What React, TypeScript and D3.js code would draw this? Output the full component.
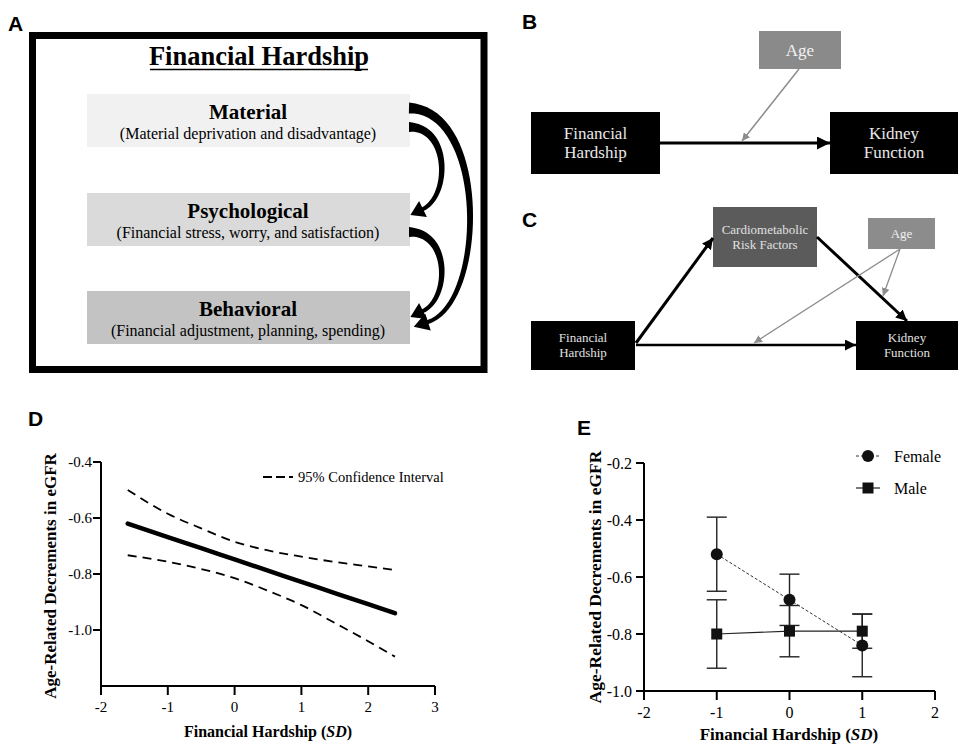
import React from "react";
import * as d3 from "d3";

// ---- panel A: hardship domains
const domainNames = ["Material", "Psychological", "Behavioral"];
const domainNotes = [
  "(Material deprivation and disadvantage)",
  "(Financial stress, worry, and satisfaction)",
  "(Financial adjustment, planning, spending)",
];
const domainFills = ["#f1f1f1", "#dadada", "#c3c3c3"];

// ---- panel D: simple slope with 95% CI
const dX = [-1.6, -1, -0.5, 0, 0.5, 1, 1.5, 2, 2.4];
const dFit = [-0.62, -0.668, -0.708, -0.748, -0.788, -0.828, -0.868, -0.908, -0.94];
const dUpper = [-0.5, -0.585, -0.637, -0.685, -0.716, -0.738, -0.757, -0.773, -0.786];
const dLower = [-0.733, -0.756, -0.782, -0.815, -0.86, -0.911, -0.975, -1.04, -1.095];
const dXTicks = [-2, -1, 0, 1, 2, 3];
const dYTicks = [-0.4, -0.6, -0.8, -1.0];

// ---- panel E: sex by hardship
const eX = [-1, 0, 1];
const femaleMean = [-0.52, -0.68, -0.84];
const femaleLow = [-0.65, -0.77, -0.95];
const femaleHigh = [-0.39, -0.59, -0.73];
const maleMean = [-0.8, -0.79, -0.79];
const maleLow = [-0.92, -0.88, -0.85];
const maleHigh = [-0.68, -0.7, -0.73];
const eXTicks = [-2, -1, 0, 1, 2];
const eYTicks = [-0.2, -0.4, -0.6, -0.8, -1.0];

const SERIF = "Liberation Serif";
const SANS = "Liberation Sans";

type Pt = [number, number];

// tapered curved arrow drawn as a filled outline
function taperedArrow(p0: Pt, p1: Pt, p2: Pt, p3: Pt, w0: number, w1: number, headLen: number, headHalf: number) {
  const bez = (t: number): Pt => {
    const m = 1 - t;
    return [
      m * m * m * p0[0] + 3 * m * m * t * p1[0] + 3 * m * t * t * p2[0] + t * t * t * p3[0],
      m * m * m * p0[1] + 3 * m * m * t * p1[1] + 3 * m * t * t * p2[1] + t * t * t * p3[1],
    ];
  };
  const der = (t: number): Pt => {
    const m = 1 - t;
    return [
      3 * m * m * (p1[0] - p0[0]) + 6 * m * t * (p2[0] - p1[0]) + 3 * t * t * (p3[0] - p2[0]),
      3 * m * m * (p1[1] - p0[1]) + 6 * m * t * (p2[1] - p1[1]) + 3 * t * t * (p3[1] - p2[1]),
    ];
  };
  const left: Pt[] = [];
  const right: Pt[] = [];
  const n = 40;
  for (let i = 0; i <= n; i++) {
    const t = i / n;
    const p = bez(t);
    const d = der(t);
    const len = Math.hypot(d[0], d[1]) || 1;
    const nx = -d[1] / len, ny = d[0] / len;
    const w = (w0 + (w1 - w0) * Math.sqrt(t)) / 2;
    left.push([p[0] + nx * w, p[1] + ny * w]);
    right.push([p[0] - nx * w, p[1] - ny * w]);
  }
  const de = der(1);
  const le = Math.hypot(de[0], de[1]);
  const ux = de[0] / le, uy = de[1] / le;
  const tip: Pt = [p3[0] + ux * headLen, p3[1] + uy * headLen];
  const bl: Pt = [p3[0] - uy * headHalf, p3[1] + ux * headHalf];
  const br: Pt = [p3[0] + uy * headHalf, p3[1] - ux * headHalf];
  const pts = [...left, bl, tip, br, ...right.reverse()];
  return d3.line()(pts) + "Z";
}

function PanelA() {
  const boxY = [94, 193, 291];
  const boxH = 53;
  return (
    <g>
      <text x={8} y={31} fontFamily={SANS} fontWeight="bold" fontSize={21}>A</text>
      <rect x={32.5} y={35.5} width={451.5} height={334} fill="none" stroke="#000" strokeWidth={7} />
      <text x={259} y={65} textAnchor="middle" fontFamily={SERIF} fontWeight="bold" fontSize={26.5}>Financial Hardship</text>
      <line x1={150} x2={368} y1={69.5} y2={69.5} stroke="#000" strokeWidth={1.5} />
      {domainNames.map((name, i) => (
        <g key={name}>
          <rect x={87} y={boxY[i]} width={323} height={boxH} fill={domainFills[i]} />
          <text x={248} y={boxY[i] + 25} textAnchor="middle" fontFamily={SERIF} fontWeight="bold" fontSize={21}>{name}</text>
          <text x={248} y={boxY[i] + 45} textAnchor="middle" fontFamily={SERIF} fontSize={16}>{domainNotes[i]}</text>
        </g>
      ))}
      <path d={taperedArrow([409, 108], [488, 110], [486, 303], [428, 322], 11, 4, 15, 9)} fill="#000" />
      <path d={taperedArrow([409, 127], [450, 127], [450, 196], [423, 209], 10, 4, 14, 9)} fill="#000" />
      <path d={taperedArrow([409, 232], [450, 232], [450, 298], [423, 311], 10, 4, 14, 9)} fill="#000" />
    </g>
  );
}

function DarkBox({ x, y, w, h, fill, color, size, lines }: { x: number; y: number; w: number; h: number; fill: string; color: string; size: number; lines: string[] }) {
  const lh = size * 1.15;
  const cy = y + h / 2 - ((lines.length - 1) * lh) / 2 + size * 0.33;
  return (
    <g>
      <rect x={x} y={y} width={w} height={h} fill={fill} />
      {lines.map((l, i) => (
        <text key={i} x={x + w / 2} y={cy + i * lh} textAnchor="middle" fontFamily={SERIF} fontSize={size} fill={color}>{l}</text>
      ))}
    </g>
  );
}

function PanelsBC() {
  return (
    <g>
      <text x={522} y={29} fontFamily={SANS} fontWeight="bold" fontSize={21}>B</text>
      <DarkBox x={759} y={31} w={82} h={38} fill="#8a8a8a" color="#f2f2f2" size={17} lines={["Age"]} />
      <DarkBox x={531} y={112} w={129} h={62} fill="#000" color="#e8e8e8" size={17} lines={["Financial", "Hardship"]} />
      <DarkBox x={830} y={112} w={128} h={62} fill="#000" color="#e8e8e8" size={17} lines={["Kidney", "Function"]} />
      <line x1={660} y1={143} x2={830} y2={143} stroke="#000" strokeWidth={3} markerEnd="url(#arrB)" />
      <line x1={799} y1={69} x2={742} y2={141} stroke="#8c8c8c" strokeWidth={1.5} markerEnd="url(#arrG)" />

      <text x={522} y={227} fontFamily={SANS} fontWeight="bold" fontSize={21}>C</text>
      <DarkBox x={713} y={207} w={104} h={60} fill="#5b5b5b" color="#e0e0e0" size={13} lines={["Cardiometabolic", "Risk Factors"]} />
      <DarkBox x={868} y={218} w={67} h={31} fill="#8c8c8c" color="#f0f0f0" size={13} lines={["Age"]} />
      <DarkBox x={531} y={321} w={104} h={49} fill="#000" color="#e0e0e0" size={13} lines={["Financial", "Hardship"]} />
      <DarkBox x={856} y={321} w={102} h={49} fill="#000" color="#e0e0e0" size={13} lines={["Kidney", "Function"]} />
      <line x1={636} y1={343} x2={713} y2={238} stroke="#000" strokeWidth={3} markerEnd="url(#arrC)" />
      <line x1={817} y1={237} x2={907} y2={321} stroke="#000" strokeWidth={3} markerEnd="url(#arrC)" />
      <line x1={636} y1={345} x2={856} y2={345} stroke="#000" strokeWidth={2.5} markerEnd="url(#arrC)" />
      <line x1={900} y1={249} x2={754} y2={343} stroke="#8c8c8c" strokeWidth={1.3} markerEnd="url(#arrG)" />
      <line x1={900} y1={249} x2={883} y2={296} stroke="#8c8c8c" strokeWidth={1.3} markerEnd="url(#arrG)" />
    </g>
  );
}

function PanelD() {
  const x = d3.scaleLinear().domain([-2, 3]).range([101, 435]);
  const y = d3.scaleLinear().domain([-1.2, -0.4]).range([686, 462]);
  const line = d3.line<number>().x((_, i) => x(dX[i])).curve(d3.curveMonotoneX);
  const fit = line.y((v) => y(v))(dFit) || "";
  const up = line.y((v) => y(v))(dUpper) || "";
  const lo = line.y((v) => y(v))(dLower) || "";
  return (
    <g>
      <text x={28} y={426} fontFamily={SANS} fontWeight="bold" fontSize={21}>D</text>
      <path d={up} fill="none" stroke="#000" strokeWidth={1.8} strokeDasharray="9,6" />
      <path d={lo} fill="none" stroke="#000" strokeWidth={1.8} strokeDasharray="9,6" />
      <path d={fit} fill="none" stroke="#000" strokeWidth={4.5} strokeLinecap="round" />
      <line x1={x(-2)} x2={x(3)} y1={y(-1.2)} y2={y(-1.2)} stroke="#000" strokeWidth={2} />
      <line x1={x(-2)} x2={x(-2)} y1={y(-1.2)} y2={y(-0.4)} stroke="#000" strokeWidth={2} />
      {dXTicks.map((t) => (
        <g key={t}>
          <line x1={x(t)} x2={x(t)} y1={y(-1.2)} y2={y(-1.2) + 9} stroke="#000" strokeWidth={2} />
          <text x={x(t)} y={712} textAnchor="middle" fontFamily={SERIF} fontSize={15}>{t}</text>
        </g>
      ))}
      {dYTicks.map((t) => (
        <g key={t}>
          <line x1={x(-2) - 8} x2={x(-2)} y1={y(t)} y2={y(t)} stroke="#000" strokeWidth={2} />
          <text x={92} y={y(t) + 5} textAnchor="end" fontFamily={SERIF} fontSize={15}>{t.toFixed(1)}</text>
        </g>
      ))}
      <line x1={263} x2={293} y1={477} y2={477} stroke="#000" strokeWidth={1.8} strokeDasharray="9,4" />
      <text x={298} y={482} fontFamily={SERIF} fontSize={14.5}>95% Confidence Interval</text>
      <text transform="translate(56,576) rotate(-90)" textAnchor="middle" fontFamily={SERIF} fontWeight="bold" fontSize={17}>Age-Related Decrements in eGFR</text>
      <text x={268} y={737} textAnchor="middle" fontFamily={SERIF} fontWeight="bold" fontSize={16}>
        Financial Hardship (<tspan fontStyle="italic">SD</tspan>)
      </text>
    </g>
  );
}

function PanelE() {
  const x = d3.scaleLinear().domain([-2, 2]).range([644, 935]);
  const y = d3.scaleLinear().domain([-1.0, -0.2]).range([691, 463]);
  const line = d3.line<number>().x((_, i) => x(eX[i])).y((v) => y(v));
  const sq = 11;
  return (
    <g>
      <text x={577} y={435} fontFamily={SANS} fontWeight="bold" fontSize={21}>E</text>
      {eX.map((v, i) => (
        <g key={"f" + i} stroke="#222" strokeWidth={1.4}>
          <line x1={x(v)} x2={x(v)} y1={y(femaleLow[i])} y2={y(femaleHigh[i])} />
          <line x1={x(v) - 10} x2={x(v) + 10} y1={y(femaleLow[i])} y2={y(femaleLow[i])} />
          <line x1={x(v) - 10} x2={x(v) + 10} y1={y(femaleHigh[i])} y2={y(femaleHigh[i])} />
        </g>
      ))}
      {eX.map((v, i) => (
        <g key={"m" + i} stroke="#222" strokeWidth={1.4}>
          <line x1={x(v)} x2={x(v)} y1={y(maleLow[i])} y2={y(maleHigh[i])} />
          <line x1={x(v) - 10} x2={x(v) + 10} y1={y(maleLow[i])} y2={y(maleLow[i])} />
          <line x1={x(v) - 10} x2={x(v) + 10} y1={y(maleHigh[i])} y2={y(maleHigh[i])} />
        </g>
      ))}
      <path d={line(femaleMean) || ""} fill="none" stroke="#333" strokeWidth={1} strokeDasharray="3,2" />
      <path d={line(maleMean) || ""} fill="none" stroke="#222" strokeWidth={1.2} />
      {eX.map((v, i) => (
        <circle key={"fc" + i} cx={x(v)} cy={y(femaleMean[i])} r={6} fill="#111" />
      ))}
      {eX.map((v, i) => (
        <rect key={"ms" + i} x={x(v) - sq / 2} y={y(maleMean[i]) - sq / 2} width={sq} height={sq} fill="#111" />
      ))}
      <line x1={x(-2)} x2={x(2)} y1={y(-1)} y2={y(-1)} stroke="#000" strokeWidth={2} />
      <line x1={x(-2)} x2={x(-2)} y1={y(-1)} y2={y(-0.2)} stroke="#000" strokeWidth={2} />
      {eXTicks.map((t) => (
        <g key={t}>
          <line x1={x(t)} x2={x(t)} y1={y(-1)} y2={y(-1) + 9} stroke="#000" strokeWidth={2} />
          <text x={x(t)} y={718} textAnchor="middle" fontFamily={SERIF} fontSize={16}>{t}</text>
        </g>
      ))}
      {eYTicks.map((t) => (
        <g key={t}>
          <line x1={x(-2) - 8} x2={x(-2)} y1={y(t)} y2={y(t)} stroke="#000" strokeWidth={2} />
          <text x={632} y={y(t) + 5.5} textAnchor="end" fontFamily={SERIF} fontSize={16}>{t.toFixed(1)}</text>
        </g>
      ))}
      <line x1={856} x2={880} y1={456} y2={456} stroke="#333" strokeWidth={1} strokeDasharray="3,2" />
      <circle cx={868} cy={456} r={6} fill="#111" />
      <text x={894} y={462} fontFamily={SERIF} fontSize={16}>Female</text>
      <line x1={856} x2={880} y1={488} y2={488} stroke="#222" strokeWidth={1.2} />
      <rect x={868 - sq / 2} y={488 - sq / 2} width={sq} height={sq} fill="#111" />
      <text x={894} y={494} fontFamily={SERIF} fontSize={16}>Male</text>
      <text transform="translate(601,577) rotate(-90)" textAnchor="middle" fontFamily={SERIF} fontWeight="bold" fontSize={17.5}>Age-Related Decrements in eGFR</text>
      <text x={789} y={740} textAnchor="middle" fontFamily={SERIF} fontWeight="bold" fontSize={17}>
        Financial Hardship (<tspan fontStyle="italic">SD</tspan>)
      </text>
    </g>
  );
}

export default function App() {
  return (
    <svg width={958} height={746} style={{ position: "absolute", left: 0, top: 0, background: "#fff" }}>
      <defs>
        <marker id="arrB" markerUnits="userSpaceOnUse" markerWidth={13} markerHeight={13} refX={13} refY={6.5} orient="auto">
          <path d="M0,0 L13,6.5 L0,13 Z" fill="#000" />
        </marker>
        <marker id="arrC" markerUnits="userSpaceOnUse" markerWidth={11} markerHeight={11} refX={11} refY={5.5} orient="auto">
          <path d="M0,0 L11,5.5 L0,11 Z" fill="#000" />
        </marker>
        <marker id="arrG" markerUnits="userSpaceOnUse" markerWidth={8} markerHeight={8} refX={8} refY={4} orient="auto">
          <path d="M0,0 L8,4 L0,8 Z" fill="#8c8c8c" />
        </marker>
      </defs>
      <rect width={958} height={746} fill="#fff" />
      <PanelA />
      <PanelsBC />
      <PanelD />
      <PanelE />
    </svg>
  );
}
